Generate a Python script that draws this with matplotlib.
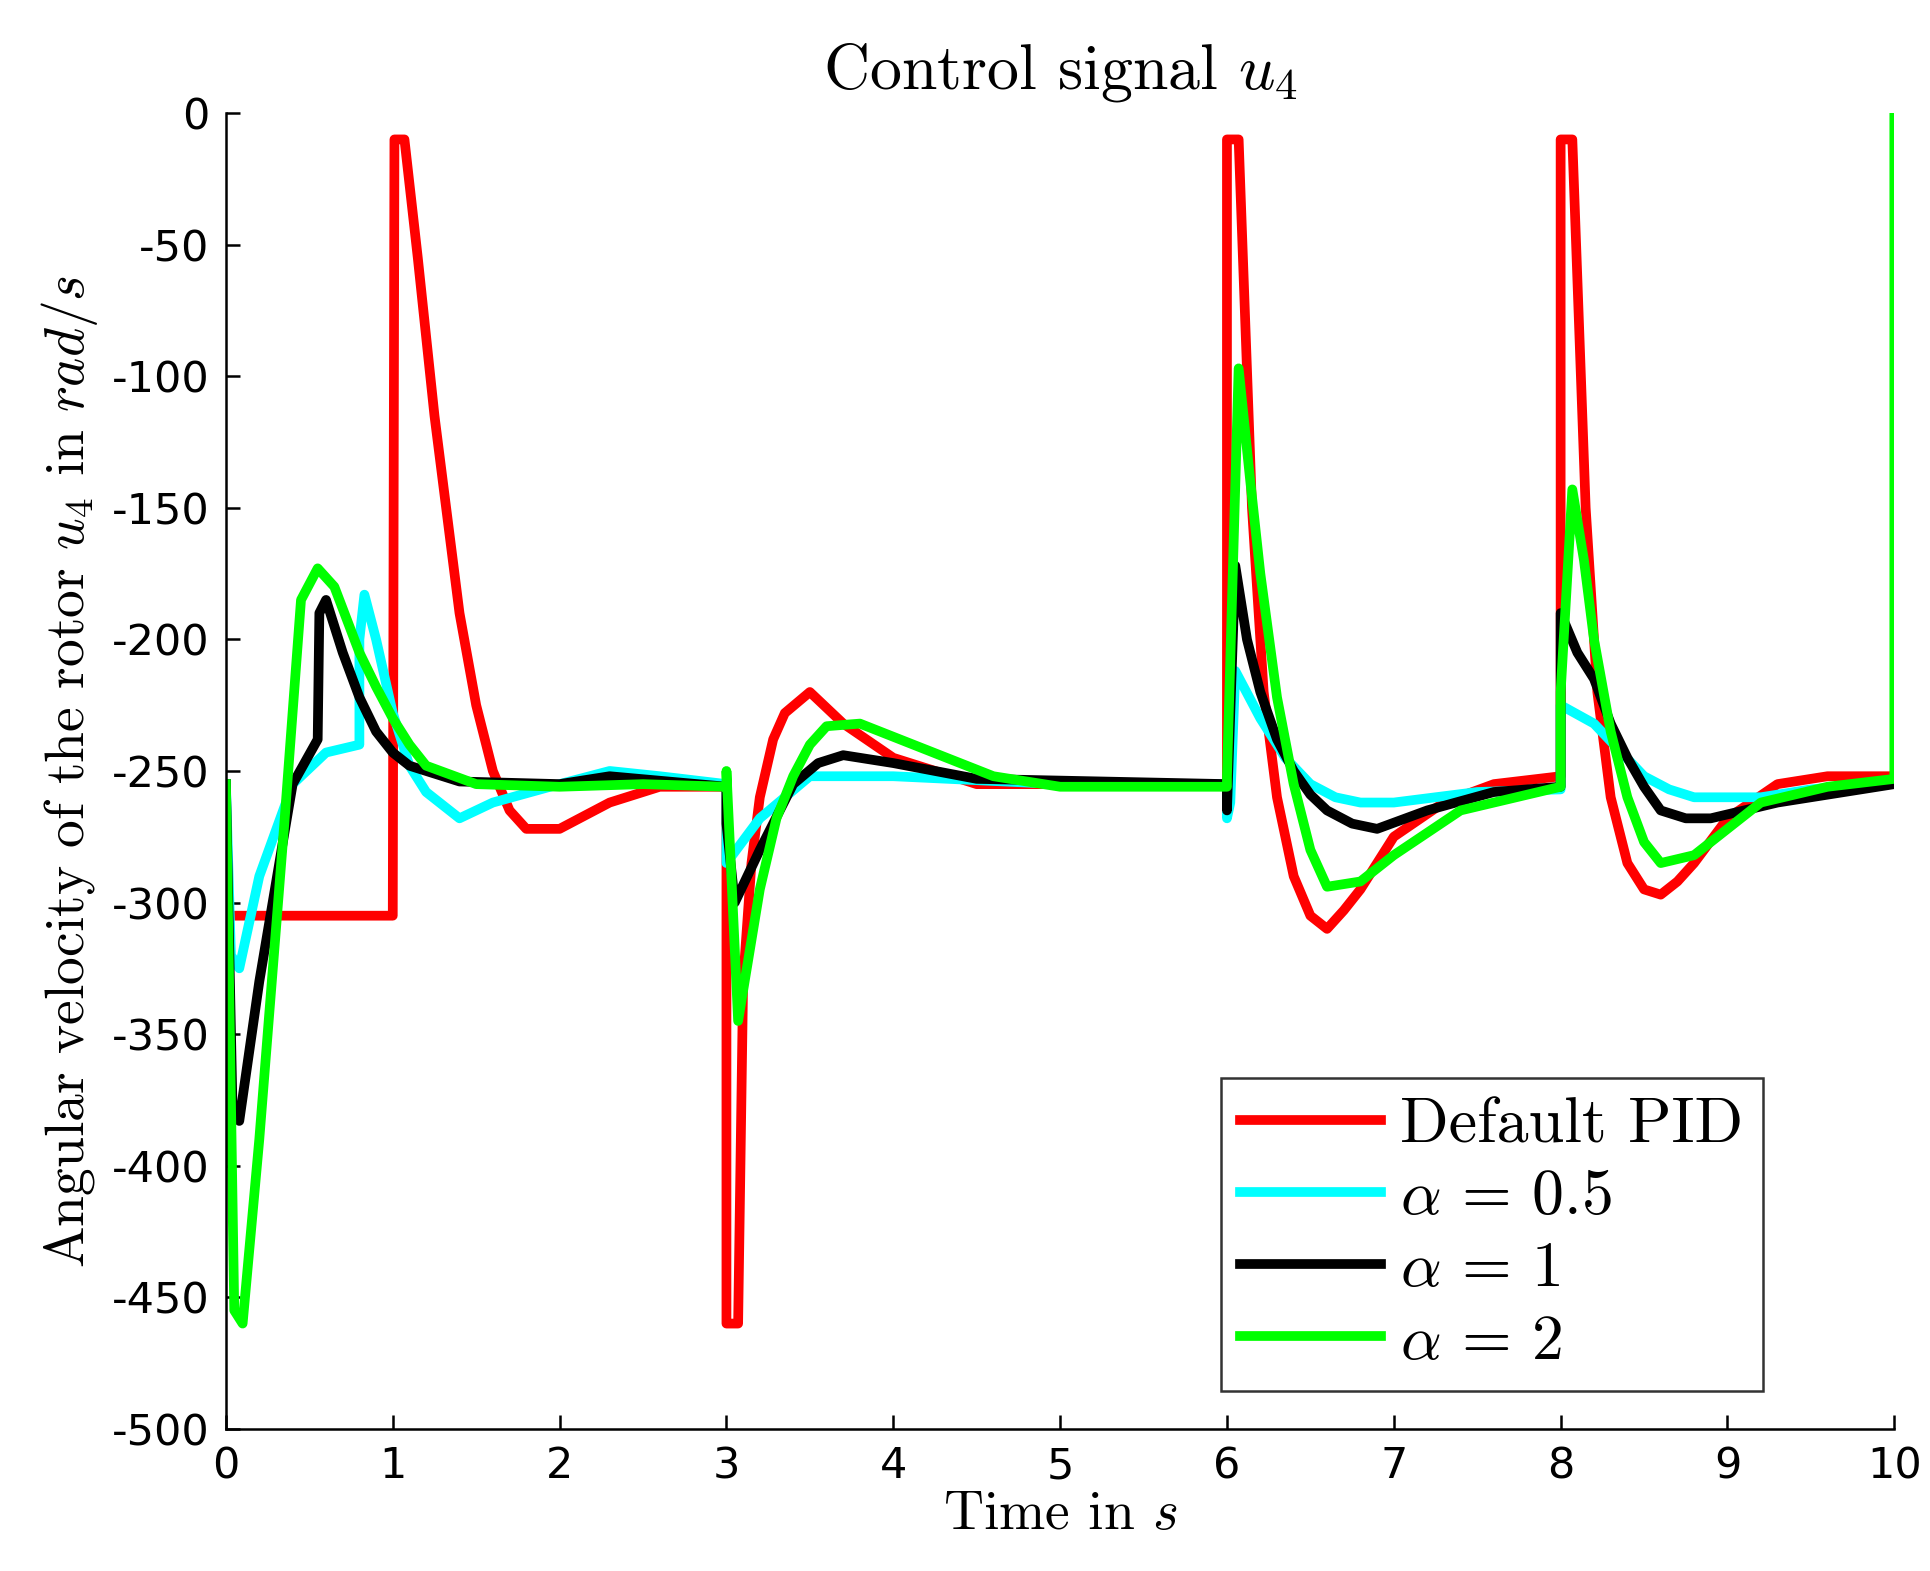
import matplotlib.pyplot as plt
import numpy as np

plt.rcParams['mathtext.fontset'] = 'cm'

# Default PID
t_pid = [0, 0.01, 1.0, 1.01, 1.07, 1.15, 1.25, 1.4, 1.5, 1.6, 1.7, 1.8, 2.0, 2.3, 2.6, 3.0, 3.0, 3.07,
         3.1, 3.15, 3.2, 3.28, 3.35, 3.5, 3.7, 4.0, 4.5, 5.0, 6.0, 6.0, 6.07, 6.15, 6.22, 6.3, 6.4, 6.5,
         6.6, 6.7, 6.8, 7.0, 7.3, 7.6, 8.0, 8.0, 8.07, 8.15, 8.22, 8.3, 8.4, 8.5, 8.6, 8.7, 8.8, 9.0,
         9.3, 9.6, 10.0]
u_pid = [-255, -305, -305, -10, -10, -55, -115, -190, -225, -250, -265, -272, -272, -262, -256, -256,
         -460, -460, -330, -285, -260, -238, -228, -220, -232, -245, -255, -255, -255, -10, -10, -150,
         -220, -260, -290, -305, -310, -303, -295, -275, -262, -255, -252, -10, -10, -150, -220, -260,
         -285, -295, -297, -292, -285, -268, -255, -252, -252]

# alpha = 0.5
t_a05 = [0, 0.03, 0.08, 0.2, 0.4, 0.6, 0.8, 0.8, 0.83, 0.9, 1.0, 1.1, 1.2, 1.4, 1.6, 2.0, 2.3, 2.6,
         3.0, 3.0, 3.2, 3.5, 4.0, 5.0, 6.0, 6.0, 6.02, 6.05, 6.2, 6.35, 6.5, 6.65, 6.8, 7.0, 7.5, 8.0,
         8.0, 8.2, 8.35, 8.5, 8.65, 8.8, 9.2, 9.5, 10.0]
u_a05 = [-255, -320, -325, -290, -255, -243, -240, -200, -183, -200, -228, -248, -258, -268, -262, -255,
         -250, -252, -255, -285, -268, -252, -252, -255, -255, -268, -262, -212, -230, -245, -255, -260,
         -262, -262, -258, -257, -225, -232, -242, -252, -257, -260, -260, -257, -254]

# alpha = 1
t_a1 = [0, 0.04, 0.08, 0.2, 0.4, 0.55, 0.56, 0.6, 0.7, 0.8, 0.9, 1.0, 1.1, 1.4, 2.0, 2.3, 3.0, 3.0,
        3.05, 3.2, 3.4, 3.55, 3.7, 4.0, 4.5, 6.0, 6.0, 6.05, 6.12, 6.2, 6.3, 6.4, 6.5, 6.6, 6.75, 6.9,
        7.2, 7.6, 8.0, 8.0, 8.1, 8.2, 8.3, 8.4, 8.5, 8.6, 8.75, 8.9, 9.3, 10.0]
u_a1 = [-255, -380, -383, -330, -255, -238, -190, -185, -205, -222, -235, -243, -248, -254, -255, -252,
        -256, -270, -300, -280, -255, -247, -244, -247, -253, -255, -265, -172, -200, -220, -238, -250,
        -259, -265, -270, -272, -265, -258, -256, -190, -205, -215, -232, -245, -256, -265, -268, -268,
        -262, -255]

# alpha = 2
t_a2 = [0, 0.05, 0.1, 0.2, 0.35, 0.45, 0.55, 0.65, 0.8, 0.9, 1.0, 1.1, 1.2, 1.5, 2.0, 2.5, 3.0, 3.0,
        3.07, 3.2, 3.3, 3.4, 3.5, 3.6, 3.8, 4.2, 4.6, 5.0, 6.0, 6.0, 6.07, 6.14, 6.2, 6.3, 6.4, 6.5,
        6.6, 6.8, 7.0, 7.4, 8.0, 8.0, 8.07, 8.14, 8.2, 8.3, 8.4, 8.5, 8.6, 8.8, 9.2, 9.6, 10.0, 10.0]
u_a2 = [-255, -455, -460, -390, -270, -185, -173, -180, -205, -218, -230, -240, -248, -255, -256, -255,
        -256, -250, -345, -295, -268, -252, -240, -233, -232, -242, -252, -256, -256, -252, -97, -140,
        -175, -222, -255, -280, -294, -292, -282, -265, -256, -220, -143, -170, -200, -235, -260, -277,
        -285, -282, -262, -256, -253, 0]

fig = plt.figure(figsize=(19.31, 15.71), dpi=100)
ax = fig.add_axes([0.117, 0.0905, 0.864, 0.8375])
lw = 7
ax.plot(t_pid, u_pid, color='#ff0000', lw=lw, label='Default PID')
ax.plot(t_a05, u_a05, color='#00ffff', lw=lw, label=r'$\alpha\,=\,0.5$')
ax.plot(t_a1, u_a1, color='#000000', lw=lw, label=r'$\alpha\,=\,1$')
ax.plot(t_a2, u_a2, color='#00ff00', lw=lw, label=r'$\alpha\,=\,2$')

ax.set_xlim(0, 10)
ax.set_ylim(-500, 0)
ax.set_xticks(np.arange(0, 11, 1))
ax.set_yticks(np.arange(-500, 1, 50))
ax.set_yticklabels([str(v) for v in range(-500, 1, 50)])
ax.tick_params(direction='in', labelsize=31, length=10, width=1.8, pad=12)
ax.spines['top'].set_visible(False)
ax.spines['right'].set_visible(False)
for s in ('left', 'bottom'):
    ax.spines[s].set_linewidth(1.8)

ax.set_title(r'Control signal $u_4$', fontsize=46, family='cmr10', pad=18)
ax.set_xlabel(r'Time in $s$', fontsize=40, family='cmr10', labelpad=2)
ax.set_ylabel(r'Angular velocity of the rotor $u_4$ in $rad/s$', fontsize=40, family='cmr10',
              labelpad=8)

leg = ax.legend(loc='lower right', bbox_to_anchor=(0.921, 0.029), borderaxespad=0,
                fancybox=False, edgecolor='black', prop={'family': 'cmr10', 'size': 46},
                handlelength=2.2, labelspacing=0.22, borderpad=0.3, handletextpad=0.3)
leg.get_frame().set_linewidth(1.8)

fig.savefig('out.png', dpi=100)
